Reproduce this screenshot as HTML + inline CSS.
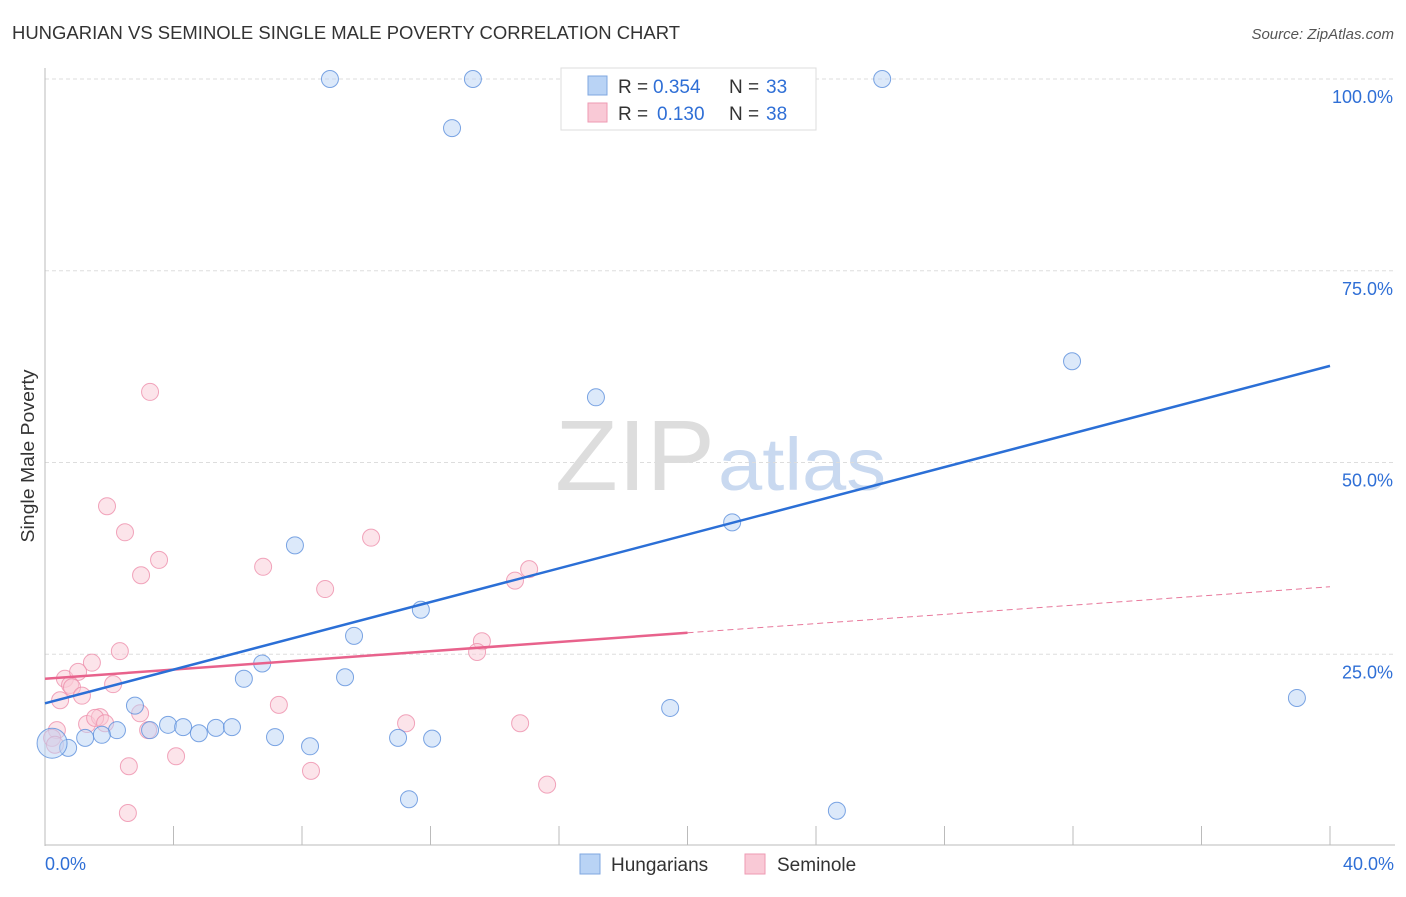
<!DOCTYPE html>
<html><head><meta charset="utf-8"><style>
body{margin:0;background:#fff;font-family:"Liberation Sans",sans-serif}
svg text{font-family:"Liberation Sans",sans-serif}
</style></head><body>
<svg id="chart" width="1406" height="892" xmlns="http://www.w3.org/2000/svg">
<text x="12" y="39" font-size="18" fill="#333" textLength="668" lengthAdjust="spacingAndGlyphs">HUNGARIAN VS SEMINOLE SINGLE MALE POVERTY CORRELATION CHART</text>
<text x="1394" y="39" font-size="15" fill="#555" font-style="italic" text-anchor="end">Source: ZipAtlas.com</text>
<text x="555" y="490" font-size="100" fill="#ddd" textLength="160" lengthAdjust="spacingAndGlyphs" font-family="Liberation Serif">ZIP</text>
<text x="718" y="490" font-size="74" fill="#c9d9f0" textLength="168" lengthAdjust="spacingAndGlyphs">atlas</text>
<g id="grid"></g><g id="axes"></g><g id="marks"></g>
<text transform="translate(34,456) rotate(-90)" font-size="18" fill="#333" text-anchor="middle" textLength="173" lengthAdjust="spacingAndGlyphs">Single Male Poverty</text>
<g>
<rect x="561" y="68" width="255" height="62" fill="#fff" stroke="#ddd"/>
<rect x="588" y="76" width="19" height="19" fill="#b9d3f5" stroke="#7fa7e0"/>
<rect x="588" y="103" width="19" height="19" fill="#f9c9d6" stroke="#ee9ab3"/>
<text x="618" y="93" font-size="19" fill="#333">R =</text>
<text x="653" y="93" font-size="19" fill="#2f6fd6">0.354</text>
<text x="729" y="93" font-size="19" fill="#333">N =</text>
<text x="766" y="93" font-size="19" fill="#2f6fd6">33</text>
<text x="618" y="120" font-size="19" fill="#333">R =</text>
<text x="657" y="120" font-size="19" fill="#2f6fd6">0.130</text>
<text x="729" y="120" font-size="19" fill="#333">N =</text>
<text x="766" y="120" font-size="19" fill="#2f6fd6">38</text>
</g>
<g>
<rect x="580" y="854" width="20" height="20" fill="#b9d3f5" stroke="#7fa7e0"/>
<text x="611" y="871" font-size="19" fill="#333">Hungarians</text>
<rect x="745" y="854" width="20" height="20" fill="#f9c9d6" stroke="#ee9ab3"/>
<text x="777" y="871" font-size="19" fill="#333">Seminole</text>
</g>
</svg>
<script>
const blueX=[8.87,13.32,26.06,12.67,31.97,17.15,21.39,7.78,11.70,9.62,6.76,6.19,9.34,2.80,3.83,4.30,4.79,5.32,5.82,3.27,2.24,1.77,1.25,0.72,7.16,8.25,10.99,12.05,19.46,38.97,11.33,24.65,0.22];
const blueY=[100,100,100,93.6,63.2,58.5,42.2,39.2,30.8,27.4,23.8,21.8,22.0,18.3,15.8,15.5,14.7,15.4,15.5,15.1,15.1,14.5,14.1,12.8,14.2,13.0,14.1,14.0,18.0,19.3,6.1,4.6,13.4];
const pinkX=[1.93,2.49,3.27,2.99,3.55,2.33,1.46,0.62,1.03,0.78,0.84,1.15,2.12,0.47,0.37,1.31,1.71,1.56,1.87,2.96,3.21,2.61,4.08,2.58,7.28,6.79,8.72,10.15,8.28,14.63,15.07,13.60,13.45,14.79,11.24,15.63,0.22,0.31];
const pinkY=[44.3,40.9,59.2,35.3,37.3,25.4,23.9,21.8,22.7,21.0,20.7,19.6,21.1,19.0,15.1,15.9,16.8,16.7,16.0,17.3,15.1,10.4,11.7,4.3,18.4,36.4,33.5,40.2,9.8,34.6,36.1,26.7,25.3,16.0,16.0,8.0,14.1,13.2];
const blueTrend=[18.6,62.6];
const pinkTrend=[21.8,33.8];
const yTicks=[25,50,75,100];
const xTickLabels=["0.0%","40.0%"];
const NS="http://www.w3.org/2000/svg";
const X=v=>45+v/40*1285, Y=v=>846-v/100*767;
function mk(t,a,p){const e=document.createElementNS(NS,t);for(const k in a)e.setAttribute(k,a[k]);p.appendChild(e);return e;}
const grid=document.getElementById('grid'),axes=document.getElementById('axes'),marks=document.getElementById('marks');
yTicks.forEach(t=>{
 const l=mk('line',{x1:45,x2:1395,y1:Y(t),y2:Y(t),stroke:'#ddd','stroke-dasharray':'4,3'},grid);
 
 
 const tx=mk('text',{x:1393,y:Y(t)+24,'font-size':18,fill:'#2f6fd6','text-anchor':'end'},axes);
 tx.textContent=t.toFixed(1)+'%';
 
 
});
mk('line',{x1:45,x2:45,y1:68,y2:846,stroke:'#bbb'},axes);
mk('line',{x1:45,x2:1395,y1:845,y2:845,stroke:'#bbb'},axes);
for(let i=1;i<=10;i++){mk('line',{x1:X(i*4),x2:X(i*4),y1:826,y2:845,stroke:'#bbb'},axes);}
const l0=mk('text',{x:45,y:870,'font-size':18,fill:'#2f6fd6'},axes);l0.textContent=xTickLabels[0];


const l1=mk('text',{x:1394,y:870,'font-size':18,fill:'#2f6fd6','text-anchor':'end'},axes);l1.textContent=xTickLabels[1];


function pts(xs,ys,fill,stroke,name){xs.forEach((x,i)=>{
 const r=(name==='hungarian'&&i===xs.length-1)?15:8.5;
 const c=mk('circle',{cx:X(x),cy:Y(ys[i]),r:r,fill:fill,'fill-opacity':0.5,stroke:stroke,'stroke-opacity':0.8,'stroke-width':1},marks);
 
 
});}
pts(pinkX,pinkY,'#f9c9d6','#ee8fab','seminole');
pts(blueX,blueY,'#b9d3f5','#5b8fdc','hungarian');
const pm=pinkTrend[0]+(pinkTrend[1]-pinkTrend[0])*0.5;
const pd=mk('line',{x1:X(20),y1:Y(pm),x2:X(40),y2:Y(pinkTrend[1]),stroke:'#e8799c','stroke-dasharray':'6,4','stroke-width':1},marks);


const ps=mk('line',{x1:X(0),y1:Y(pinkTrend[0]),x2:X(20),y2:Y(pm),stroke:'#e8628c','stroke-width':2.5},marks);


const bl=mk('line',{x1:X(0),y1:Y(blueTrend[0]),x2:X(40),y2:Y(blueTrend[1]),stroke:'#2b6fd6','stroke-width':2.5},marks);


</script>
</body></html>
